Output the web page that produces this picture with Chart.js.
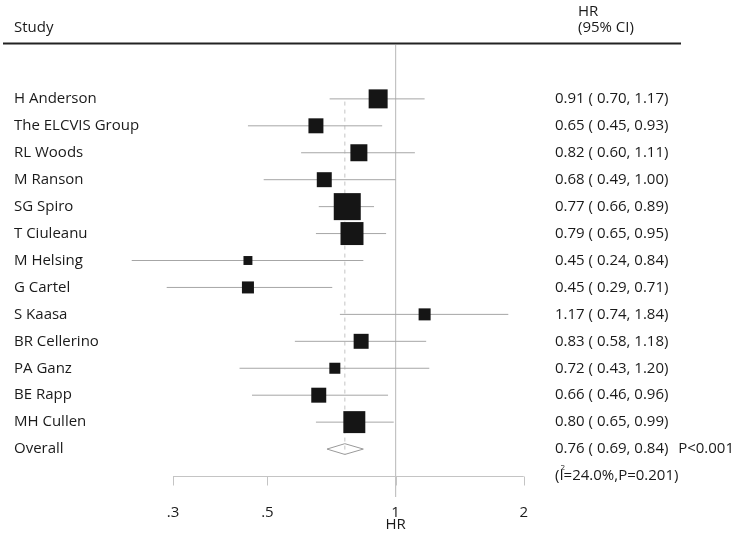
<!DOCTYPE html>
<html><head><meta charset="utf-8">
<script src="https://cdn.jsdelivr.net/npm/chart.js@4/dist/chart.umd.min.js"></script>
<style>html,body{margin:0;padding:0;background:#fff}#wrap{width:737px;height:536px}</style>
</head><body><div id="wrap"><canvas id="c" width="737" height="536"></canvas></div>
<script>
const studies = ['H Anderson','The ELCVIS Group','RL Woods','M Ranson','SG Spiro','T Ciuleanu','M Helsing','G Cartel','S Kaasa','BR Cellerino','PA Ganz','BE Rapp','MH Cullen'];
const hr     = [0.91,0.65,0.82,0.68,0.77,0.79,0.45,0.45,1.17,0.83,0.72,0.66,0.80];
const ciLow  = [0.70,0.45,0.60,0.49,0.66,0.65,0.24,0.29,0.74,0.58,0.43,0.46,0.65];
const ciHigh = [1.17,0.93,1.11,1.00,0.89,0.95,0.84,0.71,1.84,1.18,1.20,0.96,0.99];
const weights = [9.5,5.9,7.6,5.9,19.2,13.9,2.1,3.8,3.8,5.9,3.2,5.9,12.7];
const overallLabel = 'Overall';
const overallHR = 0.76, overallLow = 0.69, overallHigh = 0.84;
const overallP = 'P<0.001';
const heteroI2 = '24.0%', heteroP = '0.201';
const xTicks = [0.3,0.5,1,2];
const xTickLabels = ['.3','.5','1','2'];
const xTitle = 'HR';

const FONT = "'Open Sans', 'Noto Sans', sans-serif";
const FS = 15;
const TXT = '#1a1a1a';
const nS = studies.length;
const oRow = nS;

const fmt = (e,l,h) => e.toFixed(2)+' ( '+l.toFixed(2)+', '+h.toFixed(2)+')';

const datasets = [];
datasets.push({type:'scatter', data: hr.map((v,i)=>({x:v,y:i})), pointStyle:'rect',
  pointRadius: weights.map(w=>Math.sqrt(w*38)/Math.SQRT2), backgroundColor:'#151515', borderColor:'#151515', borderWidth:0, order:0});
for (let i=0;i<nS;i++){
  datasets.push({type:'line', data:[{x:ciLow[i],y:i},{x:ciHigh[i],y:i}], borderColor:'#a6a6a6', borderWidth:1, pointRadius:0, order:1});
}
datasets.push({type:'line', data:[{x:overallLow,y:oRow},{x:overallHR,y:oRow-0.2},{x:overallHigh,y:oRow},{x:overallHR,y:oRow+0.2},{x:overallLow,y:oRow}],
  borderColor:'#9a9a9a', borderWidth:1, pointRadius:0, fill:false, tension:0, order:1});
datasets.push({type:'line', data:[{x:1,y:-2},{x:1,y:14.78}], clip:false, borderColor:'#c4c4c4', borderWidth:1, pointRadius:0, order:2});
datasets.push({type:'line', data:[{x:overallHR,y:0.1},{x:overallHR,y:oRow+0.2}], borderColor:'#c4c4c4', borderWidth:1, borderDash:[4,4], pointRadius:0, order:2});

const deco = {
  id:'deco',
  beforeDatasetsDraw(chart){
    const ctx = chart.ctx, xs = chart.scales.x, ca = chart.chartArea;
    ctx.save();
    ctx.strokeStyle = '#c4c4c4'; ctx.lineWidth = 1;
    const y0 = Math.round(ca.bottom)+0.5;
    ctx.beginPath();
    ctx.moveTo(xs.getPixelForValue(xTicks[0]), y0);
    ctx.lineTo(xs.getPixelForValue(xTicks[xTicks.length-1]), y0);
    xTicks.forEach(t=>{ const px = Math.round(xs.getPixelForValue(t))+0.5; ctx.moveTo(px,y0); ctx.lineTo(px,y0+9); });
    ctx.stroke();
    ctx.restore();
  },
  afterDraw(chart){
    const ctx = chart.ctx, ys = chart.scales.y, xs = chart.scales.x;
    ctx.save();
    ctx.fillStyle = TXT;
    ctx.font = FS+'px '+FONT;
    ctx.textBaseline = 'middle';
    ctx.textAlign = 'left';
    // header
    ctx.fillText('Study', 14, 28);
    ctx.fillText('HR', 578, 12);
    ctx.fillText('(95% CI)', 578, 28);
    ctx.strokeStyle = '#222'; ctx.lineWidth = 2;
    ctx.beginPath(); ctx.moveTo(3, 43.5); ctx.lineTo(681, 43.5); ctx.stroke();
    studies.forEach((s,i)=>{
      const y = ys.getPixelForValue(i);
      ctx.fillText(s, 14, y);
      ctx.fillText(fmt(hr[i],ciLow[i],ciHigh[i]), 555, y);
    });
    const yo = ys.getPixelForValue(oRow);
    ctx.fillText(overallLabel, 14, yo);
    ctx.fillText(fmt(overallHR,overallLow,overallHigh), 555, yo);
    ctx.textAlign = 'right';
    ctx.fillText(overallP, 734, yo);
    ctx.textAlign = 'left';
    const yh = ys.getPixelForValue(oRow+1);
    let x = 555;
    ctx.fillText('(I', x, yh);
    x += ctx.measureText('(I').width;
    ctx.font = '8px '+FONT;
    ctx.fillText('2', x-3, yh-8);
    ctx.font = FS+'px '+FONT;
    ctx.fillText('='+heteroI2+',P='+heteroP+')', x, yh);
    ctx.textAlign = 'center';
    ctx.fillText(xTitle, xs.getPixelForValue(1), 525);
    ctx.restore();
  }
};

new Chart(document.getElementById('c'), {
  data:{datasets},
  options:{
    responsive:false, animation:false, devicePixelRatio:1,
    layout:{padding:{left:98, right:172, top:45, bottom:3}},
    plugins:{legend:{display:false}, tooltip:{enabled:false}},
    scales:{
      x:{type:'logarithmic', min:0.2, max:2.5,
        grid:{display:false, drawTicks:false}, border:{display:false},
        afterBuildTicks: s => { s.ticks = xTicks.map(v=>({value:v})); },
        ticks:{autoSkip:false, maxRotation:0, padding:28, color:TXT, font:{family:FONT, size:FS},
          callback:(v)=> xTickLabels[xTicks.indexOf(v)] ?? ''},
        title:{display:false},
        afterFit: s => { s.height = 57; }
      },
      y:{type:'linear', reverse:true, min:-2, max:14, display:false}
    }
  },
  plugins:[deco]
});
</script></body></html>
